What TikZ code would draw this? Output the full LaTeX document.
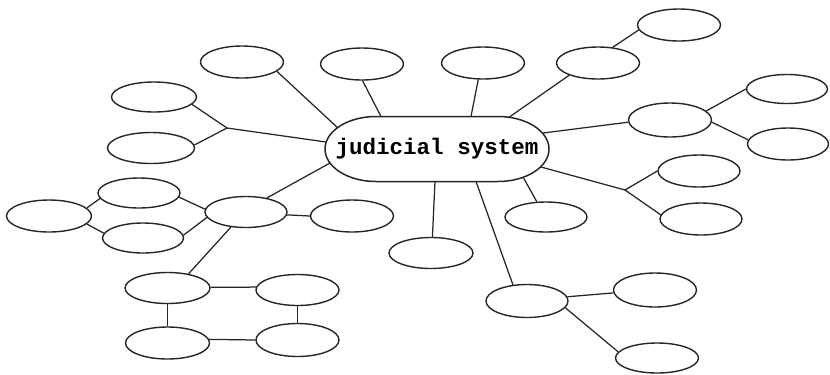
\documentclass[tikz,border=0pt]{standalone}
\usepackage{fontspec}
\newfontfamily\typew{Liberation Mono}
\usetikzlibrary{shapes.geometric,calc}
\begin{document}
\begin{tikzpicture}[x=1bp,y=-1bp,
  bub/.style={ellipse,draw=black!85,line width=1.4bp,minimum width=83bp,minimum height=32bp,inner sep=0pt},
  link/.style={draw=black!85,line width=1.25bp},
  outline/.style={draw=black!85,line width=1.5bp}]
\useasboundingbox (0,0) rectangle (830,374);
% central node
\node[minimum width=225bp,minimum height=65bp,inner sep=0pt,
      font=\typew\bfseries\fontsize{22.6}{24}\selectfont] (c) at (437,149) {judicial system};
\begin{scope}[shift={(c.center)}]
  \draw[outline] (-61,-32.5) -- (61,-32.5)
    .. controls (89.2,-32.5) and (112,-17.9) .. (112,0)
    .. controls (112,17.9) and (89.2,32.5) .. (61,32.5)
    -- (-61,32.5)
    .. controls (-89.2,32.5) and (-112,17.9) .. (-112,0)
    .. controls (-112,-17.9) and (-89.2,-32.5) .. (-61,-32.5) -- cycle;
  \coordinate (c1) at (-99.5,-21.4);
  \coordinate (c2) at (-56,-32.5);
  \coordinate (c3) at (34,-32.5);
  \coordinate (c4) at (72,-31.7);
  \coordinate (c8) at (106,-16);
  \coordinate (cL) at (-111,-7);
  \coordinate (cR) at (104,18);
  \coordinate (c13) at (86,28);
  \coordinate (c14) at (-2,32.5);
  \coordinate (c24) at (39,32.5);
  \coordinate (c18) at (-107,14);
\end{scope}
% bubbles
\node[bub] (e1) at (242,62) {};
\node[bub] (e2) at (362,64) {};
\node[bub] (e3) at (483,63) {};
\node[bub] (e4) at (598,63) {};
\node[bub] (e5) at (679,25) {};
\node[bub,minimum width=85bp,minimum height=30bp] (e6) at (154,97) {};
\node[bub,minimum width=87bp,minimum height=31bp] (e7) at (151,148) {};
\node[bub,minimum height=34bp] (e8) at (670,120) {};
\node[bub,minimum width=81bp,minimum height=29bp] (e9) at (787,89) {};
\node[bub,minimum width=81bp] (e10) at (788,144) {};
\node[bub,minimum width=82bp] (e11) at (699,171) {};
\node[bub,minimum width=82bp] (e12) at (701,219) {};
\node[bub,minimum width=82bp,minimum height=30bp] (e13) at (546,217) {};
\node[bub,minimum width=84bp,minimum height=31bp] (e14) at (431,253) {};
\node[bub,minimum width=85bp] (e15) at (49,216) {};
\node[bub,minimum width=82bp,minimum height=30bp] (e16) at (139,193) {};
\node[bub,minimum width=81bp,minimum height=30bp] (e17) at (143,238) {};
\node[bub,minimum width=82bp,minimum height=31bp] (e18) at (246,212) {};
\node[bub] (e19) at (352,216) {};
\node[bub,minimum width=85bp,minimum height=31bp] (e20) at (167.5,288) {};
\node[bub,minimum height=31bp] (e21) at (297.5,290) {};
\node[bub,minimum width=84bp] (e22) at (167.5,343) {};
\node[bub,minimum height=33bp] (e23) at (297.5,340) {};
\node[bub,minimum width=82bp,minimum height=33bp] (e24) at (527,301) {};
\node[bub,minimum height=34bp] (e25) at (655,290) {};
\node[bub,minimum height=30bp] (e26) at (657,358) {};
% junctions
\coordinate (jL) at (227,128);
\coordinate (jR) at (625,190);
% connectors to the centre
\draw[link] (e1.345) -- (c1);
\draw[link] (e2.272) -- (c2);
\draw[link] (e3.254) -- (c3);
\draw[link] (e4.203) -- (c4);
\draw[link] (e8.183) -- (c8);
\draw[link] (jL) -- (cL);
\draw[link] (jR) -- (cR);
\draw[link] (e13.121) -- (c13);
\draw[link] (e14.85) -- (c14);
\draw[link] (e24.131) -- (c24);
\draw[link] (e18.34) -- (c18);
% other connectors
\draw[link] (e4.47) -- (e5.187);
\draw[link] (e6.349) -- (jL) -- (e7.4);
\draw[link] (e8.14) -- (e9.180);
\draw[link] (e8.357) -- (e10.174);
\draw[link] (e11.180) -- (jR) -- (e12.174);
\draw[link] (e24.6) -- (e25.184);
\draw[link] (e24.350) -- (e26.171);
\draw[link] (e15.12) -- (e16.188);
\draw[link] (e15.348) -- (e17.173);
\draw[link] (e16.354) -- (e18.176);
\draw[link] (e17.4) -- (e18.188);
\draw[link] (e18.356) -- (e19.180);
\draw[link] (e18.225) -- (e20.34);
\draw[link] (e20.1) -- (e21.176);
\draw[link] (e20) -- (e22);
\draw[link] (e21) -- (e23);
\draw[link] (e22.5) -- (e23.180);
\end{tikzpicture}
\end{document}
